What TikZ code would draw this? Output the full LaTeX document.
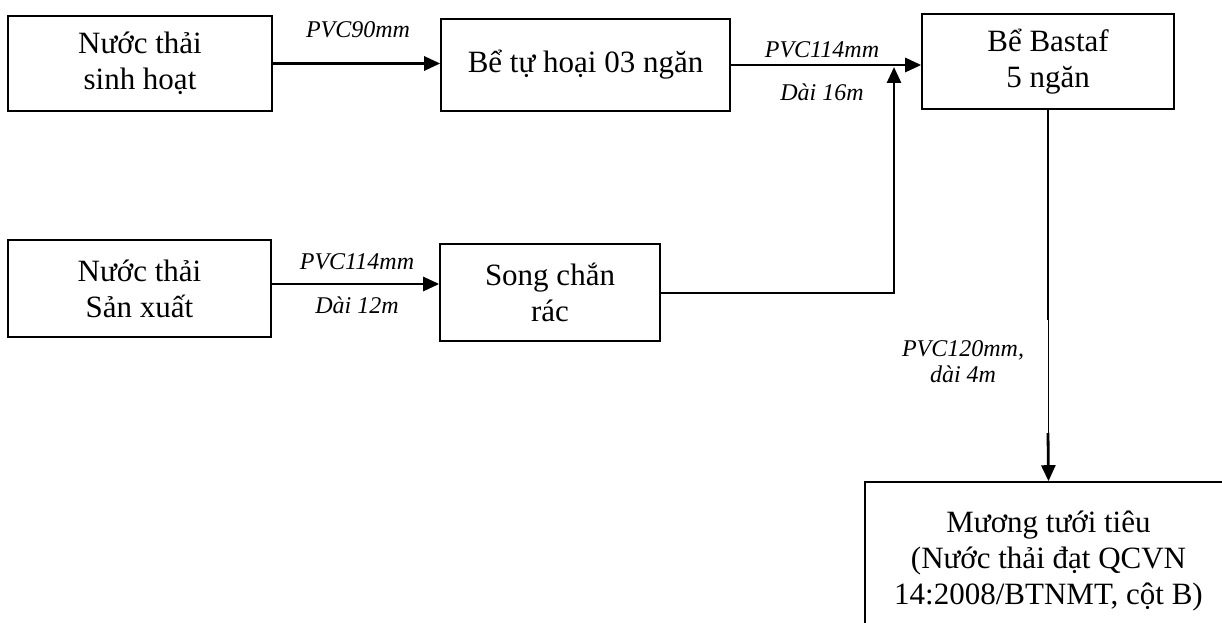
\documentclass[tikz,border=0pt]{standalone}
\usepackage{fontspec}
\setmainfont{Liberation Serif}
\usetikzlibrary{arrows.meta,calc}
\begin{document}
\begin{tikzpicture}[x=1pt,y=-1pt,
  box/.style={draw,line width=1.6pt,inner sep=0pt,align=center,
    font=\fontsize{31}{36}\selectfont},
  lbl/.style={inner sep=0pt,align=center,font=\fontsize{24}{26}\selectfont\itshape},
  arr/.style={line width=2.8pt,-{Triangle[length=16pt,width=14pt]}},
  pipe/.style={line width=2.8pt}]
\clip (0,0) rectangle (1222,623);
\useasboundingbox (0,0) rectangle (1222,623);
\node[box,minimum width=264pt,minimum height=95pt] (b1) at (140,63.5) {Nước thải\\sinh hoạt};
\node[box,minimum width=289pt,minimum height=92pt] (b2) at (585.5,65) {Bể tự hoại 03 ngăn};
\node[box,minimum width=252pt,minimum height=95pt] (b3) at (1048,61.5) {Bể Bastaf\\5 ngăn};
\node[box,minimum width=263pt,minimum height=97pt] (b4) at (139.5,288.5) {Nước thải\\Sản xuất};
\node[box,minimum width=220pt,minimum height=97pt] (b5) at (550,292.5) {Song chắn\\rác};
\node[box,minimum width=367pt,minimum height=158pt] (b6) at (1048.5,561) {Mương tưới tiêu\\(Nước thải đạt QCVN\\14:2008/BTNMT, cột B)};

\coordinate (s1) at ($(b4.east)+(0,-4.5)$);
\coordinate (j) at (894,67);
\coordinate (v1) at (1048,320);
\coordinate (v2) at (1048,433);

\draw[arr] (b1.east) -- (b1.east -| b2.west);
\draw[arr] (b2.east) -- (b2.east -| b3.west);
\draw[arr] (s1) -- (s1 -| b5.west);
\draw[line width=2pt] (b5.east) -| ($(j)+(0,16)$);
\draw[arr] ($(j)+(0,20)$) -- (j);
\draw[pipe] (b3.south) -- (v1);
\draw[line width=0.9pt] (v1) -- (v2);
\draw[arr] (v2) -- (b6.north);

\node[lbl] (l1) at (358,30) {PVC90mm};
\node[lbl] (l2) at (822,50) {PVC114mm};
\node[lbl] (l3) at (822,92) {Dài 16m};
\node[lbl] (l4) at (357,262) {PVC114mm};
\node[lbl] (l5) at (357,305) {Dài 12m};
\node[lbl] (l6) at (963,362) {PVC120mm,\\dài 4m};
\end{tikzpicture}
\end{document}
